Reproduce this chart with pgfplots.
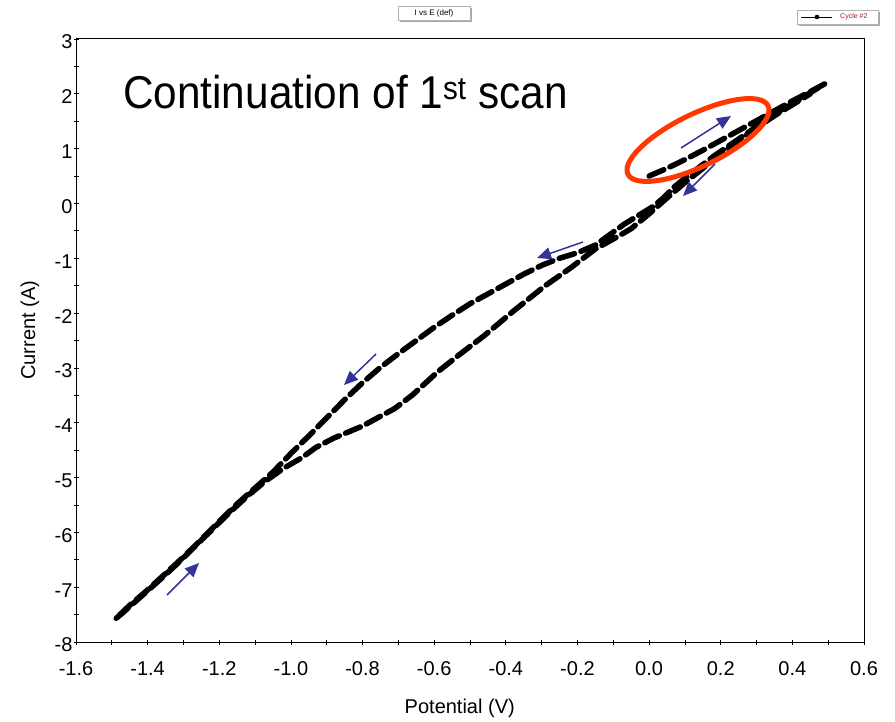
\documentclass[border=0pt]{standalone}
\usepackage{fontspec}
\setmainfont{Liberation Sans}
\newfontfamily\titlefont[FakeStretch=0.92]{Liberation Sans}
\usepackage{pgfplots}
\pgfplotsset{compat=1.18}
\usetikzlibrary{arrows.meta}
\definecolor{arrowblue}{RGB}{51,51,153}
\definecolor{circred}{RGB}{255,55,0}
\definecolor{legred}{RGB}{160,30,30}
\begin{document}
\begin{tikzpicture}[x=1pt,y=1pt]
\useasboundingbox (0,0) rectangle (895,721);
\begin{axis}[
  at={(76pt,79pt)}, anchor=south west,
  width=788pt, height=603pt, scale only axis,
  xmin=-1.6, xmax=0.6, ymin=-8, ymax=3,
  xtick={-1.6,-1.4,-1.2,-1.0,-0.8,-0.6,-0.4,-0.2,0,0.2,0.4,0.6},
  xticklabels={-1.6,-1.4,-1.2,-1.0,-0.8,-0.6,-0.4,-0.2,0.0,0.2,0.4,0.6},
  ytick={-8,-7,-6,-5,-4,-3,-2,-1,0,1,2,3},
  yticklabels={-8,-7,-6,-5,-4,-3,-2,-1,0,1,2,3},
  minor x tick num=1, minor y tick num=1,
  tick align=center, major tick length=5pt, minor tick length=5pt,
  xtick pos=left, ytick pos=left,
  tick style={black, line width=0.8pt},
  axis line style={line width=1pt},
  tick label style={font=\fontsize{20}{24}\selectfont},
  xticklabel style={yshift=-14pt},
  yticklabel style={xshift=2.5pt, yshift=-3pt},
  xlabel={Potential (V)}, ylabel={Current (A)},
  label style={font=\fontsize{20}{24}\selectfont},
  xlabel style={at={(axis description cs:0.487,0)}, anchor=center, yshift=-66pt},
  ylabel style={at={(axis description cs:-0.0584,0.517)}, anchor=center},
  clip=false,
]
\addplot[black, line width=5.5pt, line cap=round, line join=round, dash pattern=on 16pt off 6.8pt] coordinates {
(0.0,0.5) (0.05,0.64) (0.1,0.80) (0.15,0.97) (0.2,1.15) (0.25,1.33) (0.3,1.51) (0.35,1.69) (0.4,1.87) (0.45,2.04) (0.49,2.18)
(0.46,2.06) (0.42,1.9) (0.38,1.74) (0.34,1.57) (0.3,1.4) (0.26,1.22) (0.22,1.04) (0.18,0.86) (0.14,0.66) (0.1,0.46) (0.07,0.3) (0.04,0.1) (0.01,-0.06) (-0.03,-0.22) (-0.07,-0.38) (-0.11,-0.57) (-0.15,-0.76) (-0.2,-0.9) (-0.25,-1.0) (-0.3,-1.13) (-0.35,-1.29) (-0.4,-1.47) (-0.45,-1.65) (-0.5,-1.83) (-0.55,-2.04) (-0.6,-2.26) (-0.65,-2.5) (-0.7,-2.74) (-0.75,-2.99) (-0.8,-3.27) (-0.85,-3.58) (-0.9,-3.91) (-0.95,-4.24) (-1.0,-4.56) (-1.05,-4.9) (-1.1,-5.19) (-1.15,-5.48) (-1.2,-5.8) (-1.25,-6.13) (-1.3,-6.45) (-1.35,-6.75) (-1.4,-7.05) (-1.45,-7.33) (-1.49,-7.58)
(-1.47,-7.47) (-1.42,-7.18) (-1.37,-6.89) (-1.32,-6.59) (-1.27,-6.27) (-1.22,-5.95) (-1.17,-5.63) (-1.12,-5.33) (-1.07,-5.06) (-1.02,-4.83) (-0.97,-4.64) (-0.93,-4.45) (-0.88,-4.28) (-0.8,-4.06) (-0.71,-3.74) (-0.66,-3.49) (-0.59,-3.07) (-0.53,-2.76) (-0.46,-2.41) (-0.38,-1.97) (-0.29,-1.5) (-0.22,-1.18) (-0.15,-0.83) (-0.1,-0.65) (-0.05,-0.46) (0.0,-0.19) (0.05,0.1) (0.1,0.38) (0.15,0.64) (0.2,0.9) (0.25,1.15) (0.3,1.38) (0.35,1.6) (0.4,1.8) (0.45,2.0)
};
\end{axis}
% title
\node[anchor=base west, inner sep=0pt, font=\titlefont\fontsize{46}{52}\selectfont] at (123,612) {Continuation of 1\textsuperscript{st} scan};
% red ellipse
\draw[circred, line width=5pt, rotate around={26:(698,581)}] (698,581) ellipse [x radius=78, y radius=26];
% blue arrows
\begin{scope}[arrowblue, line width=1.5pt, -{Triangle[length=14pt,width=12pt]}]
\draw (681,573) -- (731,605);
\draw (715,557) -- (683,525);
\draw (583,479) -- (537,463);
\draw (376,367) -- (344,336);
\draw (167,126) -- (199,158);
\end{scope}
% top "I vs E (def)" box
\fill[gray!70] (400,699) rectangle (472,713);
\draw[fill=white, draw=gray!60, line width=0.4pt] (398,701) rectangle (470,715);
\node[font=\fontsize{8}{9}\selectfont, inner sep=0pt] at (434,708) {I vs E (def)};
% legend box
\fill[gray!70] (799,695) rectangle (880,709);
\draw[fill=white, draw=gray!60, line width=0.4pt] (797,697) rectangle (878,711);
\draw[black, line width=0.8pt] (801,704) -- (832,704);
\fill[black] (817,704) circle (2.3);
\node[anchor=west, inner sep=0pt, text=legred, font=\fontsize{7}{8}\selectfont] at (840,704) {Cycle \#2};
\end{tikzpicture}
\end{document}
